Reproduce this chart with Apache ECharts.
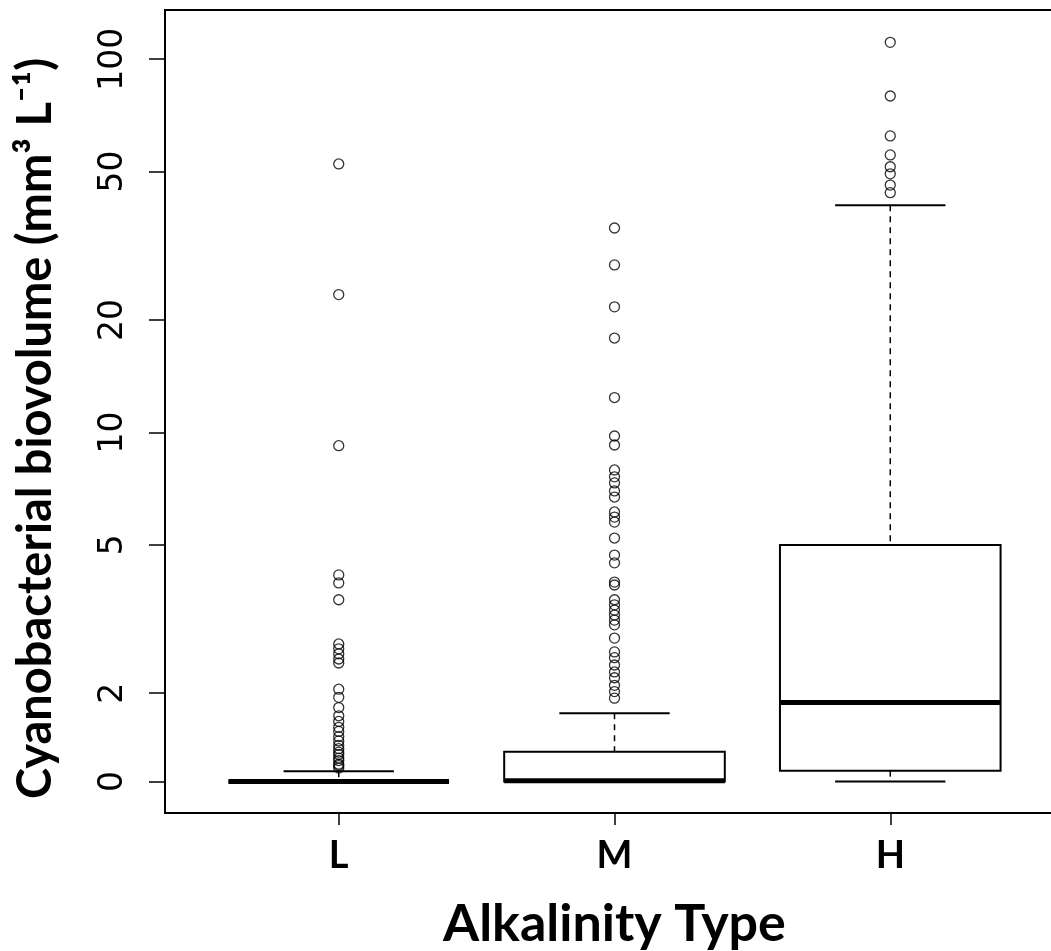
<!DOCTYPE html>
<html><head><meta charset="utf-8">
<script src="https://cdn.jsdelivr.net/npm/echarts@6/dist/echarts.min.js"></script>
<style>html,body{margin:0;padding:0;background:#fff}#c{width:1051px;height:951px}</style>
</head><body><div id="c"></div>
<script>
// ---- data (log y axis, "0" baseline sits at 1.16) ----
const categories = ['L', 'M', 'H'];
const yTickValues = [1.16, 2, 5, 10, 20, 50, 100];
const yTickLabels = ['0', '2', '5', '10', '20', '50', '100'];

const whiskerLow  = [1.16, 1.16, 1.16];
const quartile1   = [1.16, 1.16, 1.24];
const median      = [1.16, 1.165, 1.89];
const quartile3   = [1.16, 1.394, 4.99];
const whiskerHigh = [1.236, 1.768, 40.6];

const outliersL = [52.4, 23.4, 9.21, 4.15, 3.95, 3.56, 2.71, 2.63, 2.55, 2.47, 2.41, 2.05, 1.95,
  1.83, 1.74, 1.68, 1.62, 1.58, 1.53, 1.49, 1.45, 1.42, 1.39, 1.37, 1.34, 1.32, 1.29, 1.28, 1.26];
const outliersM = [35.3, 28.1, 21.7, 17.9, 12.4, 9.78, 9.25, 7.93, 7.60, 7.32, 6.97, 6.71, 6.12,
  5.93, 5.75, 5.21, 4.69, 4.47, 3.97, 3.90, 3.56, 3.45, 3.34, 3.24, 3.14, 3.05, 2.81, 2.58, 2.49,
  2.38, 2.28, 2.20, 2.10, 2.02, 1.94];
const outliersH = [111, 79.7, 62.3, 55.4, 51.5, 49.3, 46.0, 43.9];

const xTitle = 'Alkalinity Type';
const yTitle = 'Cyanobacterial biovolume (mm\u00B3 L\u207B\u00B9)';

// ---- build ----
const boxData = categories.map((c, i) => [i + 1, whiskerLow[i], quartile1[i], median[i], quartile3[i], whiskerHigh[i]]);
const outlierGroups = [outliersL, outliersM, outliersH];
const outlierData = [];
outlierGroups.forEach((g, i) => g.forEach(v => outlierData.push([i + 1, v])));

function yLabel(v) {
  let best = 0, bd = Infinity;
  yTickValues.forEach((t, i) => { const d = Math.abs(Math.log(t) - Math.log(v)); if (d < bd) { bd = d; best = i; } });
  return yTickLabels[best];
}

const chart = echarts.init(document.getElementById('c'), null, { renderer: 'canvas' });
chart.setOption({
  animation: false,
  backgroundColor: '#fff',
  grid: { left: 165, top: 10, width: 899, height: 803, outerBoundsMode: 'none', containLabel: false,
    show: true, borderColor: '#000', borderWidth: 2, backgroundColor: 'transparent' },
  xAxis: {
    type: 'value', min: 0.37, max: 3.63,
    axisLine: { show: false }, splitLine: { show: false },
    axisTick: { show: true, customValues: [1, 2, 3], length: 12, lineStyle: { color: '#000', width: 1.5 } },
    axisLabel: { customValues: [1, 2, 3], formatter: v => categories[Math.round(v) - 1],
      fontSize: 38, fontWeight: 'bold', fontFamily: 'Lato', color: '#000', margin: 24 },
    name: xTitle, nameLocation: 'middle', nameGap: 85,
    nameTextStyle: { fontSize: 52, fontWeight: 'bold', fontFamily: 'Lato', color: '#000' }
  },
  yAxis: {
    type: 'log', logBase: 10, min: 0.955, max: 135.5,
    axisLine: { show: false }, splitLine: { show: false },
    axisTick: { show: true, customValues: yTickValues, length: 16, lineStyle: { color: '#000', width: 1.5 } },
    axisLabel: { customValues: yTickValues, formatter: yLabel, rotate: 90, fontSize: 33,
      fontFamily: 'DejaVu Sans', color: '#000', margin: 35 },
    name: yTitle, nameLocation: 'middle', nameRotate: 90, nameGap: 106,
    nameTextStyle: { fontSize: 47, fontWeight: 'bold', fontFamily: 'Lato', color: '#000', padding: [0, 34, 0, 0] }
  },
  series: [
    {
      type: 'custom',
      data: boxData,
      encode: { x: 0, y: [1, 2, 3, 4, 5] },
      renderItem: function (params, api) {
        const x = api.value(0);
        const lo = api.value(1), q1 = api.value(2), md = api.value(3), q3 = api.value(4), hi = api.value(5);
        const P = (dx, v) => api.coord([x + dx, v]);
        const line = (a, b, w, dash) => ({ type: 'line', shape: { x1: a[0], y1: a[1], x2: b[0], y2: b[1] },
          style: { stroke: '#000', lineWidth: w, lineDash: dash || null } });
        const tl = P(-0.4, q3), br = P(0.4, q1);
        return {
          type: 'group',
          children: [
            line(P(0, hi), P(0, q3), 1.5, [6, 5]),
            line(P(0, q1), P(0, lo), 1.5, [6, 5]),
            line(P(-0.2, hi), P(0.2, hi), 2),
            line(P(-0.2, lo), P(0.2, lo), 2),
            { type: 'rect', shape: { x: tl[0], y: tl[1], width: br[0] - tl[0], height: br[1] - tl[1] },
              style: { fill: '#fff', stroke: '#000', lineWidth: 2 } },
            line(P(-0.4, md), P(0.4, md), 5)
          ]
        };
      }
    },
    {
      type: 'scatter',
      data: outlierData,
      symbol: 'circle', symbolSize: 10,
      itemStyle: { color: 'transparent', borderColor: '#000', borderWidth: 1.3 }
    }
  ]
});
</script></body></html>
